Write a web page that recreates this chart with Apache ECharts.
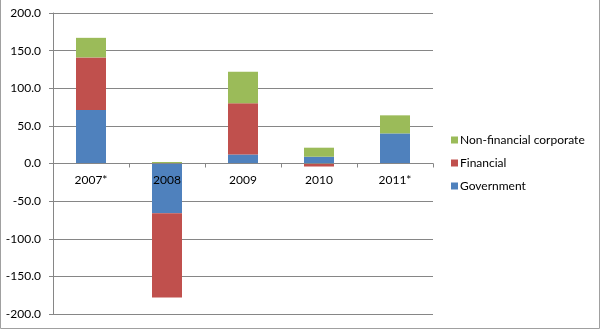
<!DOCTYPE html>
<html><head><meta charset="utf-8">
<script src="https://cdn.jsdelivr.net/npm/echarts@6/dist/echarts.min.js"></script>
<style>html,body{margin:0;padding:0;background:#fff}#c{width:600px;height:329px}</style>
</head><body><div id="c"></div>
<script>
const categories = ['2007*', '2008', '2009', '2010', '2011*'];
const government = [71, -66, 12, 9, 40];
const financial = [70, -112, 68, -4, -0.5];
const nonFinancial = [26, 2, 42, 12, 24];
const yTicks = [-200, -150, -100, -50, 0, 50, 100, 150, 200];

const chart = echarts.init(document.getElementById('c'), null, {renderer: 'canvas'});
const font = 'Lato';
const mk = (name, data, color) => ({
  name, type: 'bar', stack: 'total', data, barWidth: 30,
  itemStyle: {color, borderColor: color, borderWidth: 0},
  emphasis: {disabled: true}
});
chart.setOption({
  animation: false,
  grid: {left: 53, right: 167, top: 13, bottom: 15, containLabel: false, outerBoundsMode: 'none'},
  legend: {
    orient: 'vertical', left: 451, top: 134, itemWidth: 7, itemHeight: 7, itemGap: 11,
    icon: 'rect', padding: 0,
    textStyle: {fontFamily: font, fontSize: 12, color: '#000', padding: [0, 0, 0, -3]},
    data: ['Non-financial corporate', 'Financial', 'Government']
  },
  xAxis: {
    type: 'category', data: categories, position: 'bottom', offset: -150.5, z: 5,
    axisLine: {onZero: false, lineStyle: {color: '#868686'}},
    axisTick: {show: true, length: 4, lineStyle: {color: '#868686'}},
    axisLabel: {fontFamily: font, fontSize: 12, color: '#000', margin: 11}
  },
  yAxis: {
    type: 'value', min: yTicks[0], max: yTicks[yTicks.length - 1], interval: 50,
    axisLine: {show: true, lineStyle: {color: '#868686'}},
    axisTick: {show: true, length: 4, lineStyle: {color: '#868686'}},
    splitLine: {lineStyle: {color: '#868686'}},
    axisLabel: {fontFamily: font, fontSize: 12, color: '#000', margin: 12, formatter: v => v.toFixed(1)}
  },
  series: [
    mk('Government', government, '#4F81BD'),
    mk('Financial', financial, '#C0504D'),
    mk('Non-financial corporate', nonFinancial, '#9BBB59')
  ],
  graphic: [
    {type: 'polyline', shape: {points: [[0.5, 0], [0.5, 328.5], [599.5, 328.5], [599.5, 0]]}, style: {stroke: '#a0a0a0', fill: null, lineWidth: 1}, silent: true}
  ]
});
</script></body></html>
